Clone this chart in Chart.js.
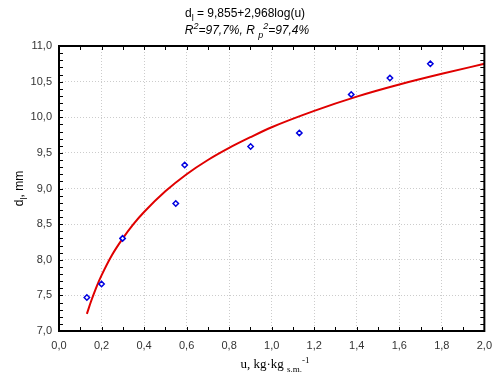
<!DOCTYPE html>
<html>
<head>
<meta charset="utf-8">
<script src="https://cdn.jsdelivr.net/npm/chart.js@4"></script>
<style>
  body { margin: 0; background: #fff; }
  #wrap { width: 500px; height: 381px; position: relative; }
</style>
</head>
<body>
<div id="wrap"><canvas id="dl-chart"></canvas></div>
<script>
//
// Data
//
const moisture = [0.131, 0.200, 0.299, 0.549, 0.591, 0.901, 1.130, 1.374, 1.556, 1.746];
const diameter = [7.47, 7.66, 8.30, 8.79, 9.33, 9.59, 9.78, 10.32, 10.55, 10.75];

// points
const fitU = [0.131, 0.15, 0.175, 0.2, 0.25, 0.3, 0.35, 0.4, 0.5, 0.6, 0.7, 0.8, 0.9, 1.0, 1.2, 1.4, 1.6, 1.8, 2.0];
const fitD = [7.24, 7.41, 7.61, 7.78, 8.07, 8.30, 8.50, 8.67, 8.96, 9.20, 9.40, 9.57, 9.72, 9.86, 10.09, 10.29, 10.46, 10.61, 10.75];

const xMin = 0, xMax = 2, xStep = 0.2, xMinor = 0.1;
const yMin = 7, yMax = 11, yStep = 0.5, yMinor = 0.1;

const comma = v => Number(v).toFixed(1).replace('.', ',');

// draws text with sub / sup parts, centered on x
function drawRich(ctx, parts, x, y, size, family, style) {
    const small = Math.round(size * 0.72);
    let total = 0;
    parts.forEach(p => {
        ctx.font = style + ' ' + (p.s ? small : size) + 'px ' + family;
        p.w = ctx.measureText(p.t).width;
        total += p.w;
    });
    let cx = x - total / 2;
    parts.forEach(p => {
        ctx.font = style + ' ' + (p.s ? small : size) + 'px ' + family;
        let dy = 0;
        if (p.s === 'sub') dy = size * 0.3;
        if (p.s === 'sup') dy = -size * 0.4;
        ctx.fillText(p.t, cx, y + dy);
        cx += p.w;
    });
}

const framePlugin = {
    id: 'frame',
    afterDraw(chart) {
        const ctx = chart.ctx;
        const a = chart.chartArea;
        const xs = chart.scales.x, ys = chart.scales.y;
        ctx.save();

        // minor / major ticks on all four sides, pointing inside
        ctx.strokeStyle = '#000';
        ctx.lineWidth = 1;
        ctx.beginPath();
        for (let v = xMin; v <= xMax + 1e-9; v += xMinor) {
            const px = Math.round(xs.getPixelForValue(v)) + 0.5;
            ctx.moveTo(px, a.bottom); ctx.lineTo(px, a.bottom - 4);
            ctx.moveTo(px, a.top); ctx.lineTo(px, a.top + 4);
        }
        for (let v = yMin; v <= yMax + 1e-9; v += yMinor) {
            const py = Math.round(ys.getPixelForValue(v)) + 0.5;
            ctx.moveTo(a.left, py); ctx.lineTo(a.left + 4, py);
            ctx.moveTo(a.right, py); ctx.lineTo(a.right - 4, py);
        }
        ctx.stroke();

        // frame
        ctx.lineWidth = 2;
        ctx.strokeRect(a.left, a.top, a.right - a.left, a.bottom - a.top);

        // title
        ctx.fillStyle = '#000';
        ctx.textBaseline = 'alphabetic';
        ctx.textAlign = 'left';
        drawRich(ctx, [{t: 'd'}, {t: 'l', s: 'sub'}, {t: ' = 9,855+2,968log(u)'}],
            245, 17, 12, '"Liberation Sans", Arial, sans-serif', 'normal');
        drawRich(ctx, [{t: 'R'}, {t: '2', s: 'sup'}, {t: '=97,7%, R '}, {t: 'p', s: 'sub'},
            {t: '2', s: 'sup'}, {t: '=97,4%'}],
            247, 34, 12, '"Liberation Sans", Arial, sans-serif', 'italic');

        // x axis title
        drawRich(ctx, [{t: 'u, kg\u00b7kg '}, {t: 's.m.', s: 'sub'}, {t: '-1', s: 'sup'}],
            275, 368, 13, '"Liberation Serif", "Times New Roman", serif', 'normal');

        // y axis title
        ctx.translate(19, (a.top + a.bottom) / 2);
        ctx.rotate(-Math.PI / 2);
        drawRich(ctx, [{t: 'd'}, {t: 'l', s: 'sub'}, {t: ', mm'}],
            0, 4, 12, '"Liberation Sans", Arial, sans-serif', 'normal');
        ctx.restore();
    }
};

const dlCanvas = document.getElementById('dl-chart');

let dlData = {
    datasets: [{
        label: 'fit',
        data: fitU.map((u, i) => ({x: u, y: fitD[i]})),
        showLine: true,
        borderColor: '#e00000',
        borderWidth: 2,
        pointRadius: 0,
        cubicInterpolationMode: 'monotone',
        order: 2
    }, {
        label: 'measured',
        data: moisture.map((u, i) => ({x: u, y: diameter[i]})),
        pointStyle: 'rectRot',
        pointRadius: 2.7,
        pointBorderWidth: 1.5,
        pointBorderColor: '#0000e0',
        pointBackgroundColor: '#ffffff',
        showLine: false,
        order: 1
    }]
};

let dlOptions = {
    responsive: true,
    maintainAspectRatio: false,
    animation: { duration: 0 },
    layout: { padding: { top: 46, right: 12, left: 0, bottom: 0 } },
    scales: {
        x: {
            type: 'linear',
            min: xMin,
            max: xMax,
            afterFit: s => { s.height = 50; },
            ticks: {
                stepSize: xStep,
                padding: 8,
                color: '#333',
                font: { family: '"Liberation Sans", Arial, sans-serif', size: 11 },
                callback: v => comma(v),
                maxRotation: 0
            },
            grid: { color: '#cccccc', lineWidth: 1, drawTicks: false },
            border: { display: false, dash: [1, 2] }
        },
        y: {
            type: 'linear',
            min: yMin,
            max: yMax,
            afterFit: s => { s.width = 59; },
            ticks: {
                stepSize: yStep,
                padding: 7,
                color: '#333',
                font: { family: '"Liberation Sans", Arial, sans-serif', size: 11 },
                callback: v => comma(v)
            },
            grid: { color: '#cccccc', lineWidth: 1, drawTicks: false },
            border: { display: false, dash: [1, 2] }
        }
    },
    plugins: {
        legend: { display: false },
        tooltip: { enabled: false }
    }
};

let dlChart = new Chart(dlCanvas, {
    type: 'scatter',
    data: dlData,
    options: dlOptions,
    plugins: [framePlugin]
});
</script>
</body>
</html>
